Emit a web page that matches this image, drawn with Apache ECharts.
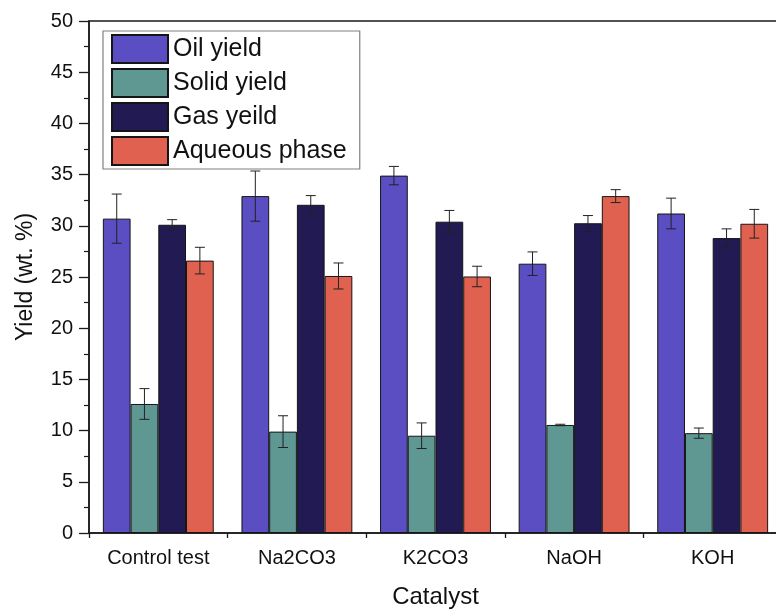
<!DOCTYPE html>
<html>
<head>
<meta charset="utf-8">
<script src="https://cdn.jsdelivr.net/npm/echarts@6/dist/echarts.min.js"></script>
<style>html,body{margin:0;padding:0;background:#fff;}#c{width:776px;height:611px;}</style>
</head>
<body>
<div id="c"></div>
<script>
var categories = ['Control test', 'Na2CO3', 'K2CO3', 'NaOH', 'KOH'];
var seriesNames = ['Oil yield', 'Solid yield', 'Gas yeild', 'Aqueous phase'];
var oilYield = [30.7, 32.9, 34.9, 26.3, 31.2];
var oilErr = [2.4, 2.45, 0.9, 1.15, 1.5];
var solidYield = [12.6, 9.9, 9.5, 10.55, 9.75];
var solidErr = [1.5, 1.55, 1.25, 0.07, 0.5];
var gasYield = [30.1, 32.05, 30.4, 30.25, 28.8];
var gasErr = [0.5, 0.9, 1.1, 0.75, 0.9];
var aqueousYield = [26.6, 25.1, 25.05, 32.9, 30.2];
var aqueousErr = [1.3, 1.27, 1.0, 0.63, 1.4];
var yTicks = [0, 5, 10, 15, 20, 25, 30, 35, 40, 45, 50];

var values = [oilYield, solidYield, gasYield, aqueousYield];
var errors = [oilErr, solidErr, gasErr, aqueousErr];
var colors = ['#5b4ec2', '#5f9893', '#221a52', '#e0614f'];
var FONT = 'Liberation Sans, Arial, sans-serif';
var BAR_FRAC = 0.2;

var chart = echarts.init(document.getElementById('c'), null, {renderer: 'canvas'});

var series = [];
values.forEach(function (vals, i) {
  series.push({
    name: seriesNames[i],
    type: 'bar',
    xAxisIndex: 0,
    barWidth: (BAR_FRAC * 100) + '%',
    barGap: '0%',
    itemStyle: {color: colors[i], borderColor: '#151515', borderWidth: 1},
    emphasis: {disabled: true},
    data: vals
  });
});
values.forEach(function (vals, i) {
  var errData = vals.map(function (v, k) { return [k, v - errors[i][k], v + errors[i][k]]; });
  series.push({
    name: seriesNames[i] + ' err',
    type: 'custom',
    xAxisIndex: 0,
    z: 5,
    silent: true,
    encode: {x: 0, y: [1, 2]},
    data: errData,
    renderItem: (function (idx) {
      return function (params, api) {
        var x = api.value(0);
        var lo = api.coord([x, api.value(1)]);
        var hi = api.coord([x, api.value(2)]);
        var band = api.size([1, 0])[0];
        var cx = lo[0] + (idx - 1.5) * band * BAR_FRAC;
        var hw = 5;
        var st = {stroke: '#222', lineWidth: 1};
        return {
          type: 'group',
          children: [
            {type: 'line', shape: {x1: cx, y1: lo[1], x2: cx, y2: hi[1]}, style: st},
            {type: 'line', shape: {x1: cx - hw, y1: hi[1], x2: cx + hw, y2: hi[1]}, style: st},
            {type: 'line', shape: {x1: cx - hw, y1: lo[1], x2: cx + hw, y2: lo[1]}, style: st}
          ]
        };
      };
    })(i)
  });
});

var option = {
  animation: false,
  backgroundColor: '#fff',
  grid: {
    left: 89, top: 21, width: 693, height: 512,
    outerBoundsMode: 'none', containLabel: false,
    show: true, borderColor: '#1a1a1a', borderWidth: 1.5, backgroundColor: 'transparent'
  },
  legend: {
    data: seriesNames,
    orient: 'vertical',
    left: 103, top: 31,
    itemWidth: 56, itemHeight: 28, itemGap: 4,
    padding: [3, 13, 3, 8],
    borderColor: '#808080', borderWidth: 1.2,
    icon: 'rect',
    selectedMode: false,
    textStyle: {fontFamily: FONT, fontSize: 25, color: '#111'}
  },
  xAxis: [
    {
      type: 'category', data: categories, position: 'bottom',
      name: 'Catalyst', nameLocation: 'middle', nameGap: 52,
      nameTextStyle: {fontFamily: FONT, fontSize: 24, color: '#111'},
      axisLine: {lineStyle: {color: '#1a1a1a', width: 1.5}},
      axisTick: {alignWithLabel: true, length: 10, lineStyle: {color: '#1a1a1a', width: 1.3}},
      axisLabel: {fontFamily: FONT, fontSize: 20, color: '#111', margin: 15},
      splitLine: {show: false}
    },
    {
      type: 'category', data: categories, position: 'bottom',
      axisLine: {show: false},
      axisTick: {show: true, length: 5, interval: 0, lineStyle: {color: '#1a1a1a', width: 1.3}},
      axisLabel: {show: false},
      splitLine: {show: false}
    }
  ],
  yAxis: {
    type: 'value', min: 0, max: 50, interval: 5,
    name: 'Yield (wt. %)', nameLocation: 'middle', nameGap: 52,
    nameTextStyle: {fontFamily: FONT, fontSize: 23, color: '#111'},
    axisLine: {show: true, lineStyle: {color: '#1a1a1a', width: 1.5}},
    axisTick: {show: true, length: 10, lineStyle: {color: '#1a1a1a', width: 1.3}},
    minorTick: {show: true, splitNumber: 2, length: 5, lineStyle: {color: '#1a1a1a', width: 1.2}},
    axisLabel: {
      fontFamily: FONT, fontSize: 20, color: '#111', margin: 16,
      customValues: yTicks
    },
    splitLine: {show: false}
  },
  series: series
};
chart.setOption(option);
</script>
</body>
</html>
